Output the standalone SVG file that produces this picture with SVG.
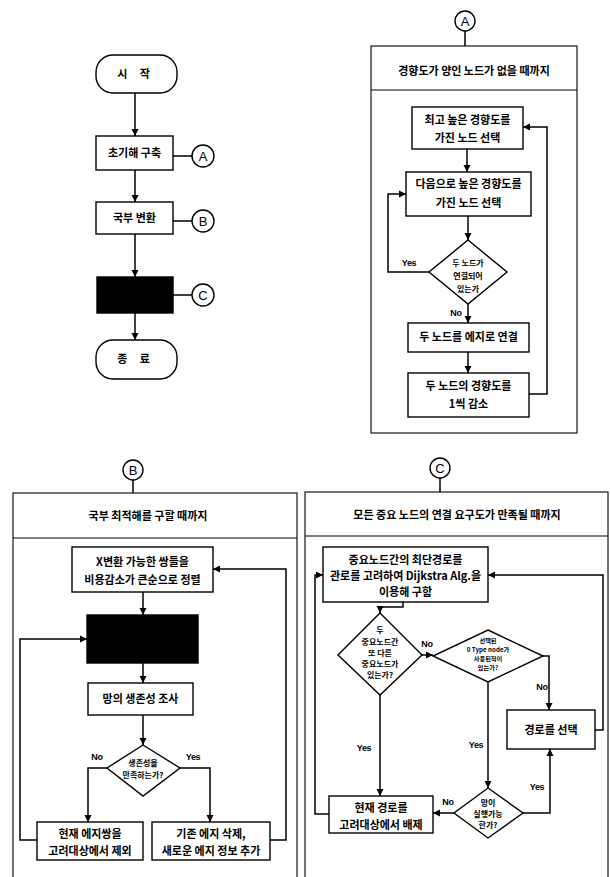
<svg xmlns="http://www.w3.org/2000/svg" width="610" height="877" viewBox="0 0 610 877">
<defs>
<style>
.bg{fill:#fff}
.box{fill:#fff;stroke:#000;stroke-width:1.4}
.blk{fill:#000;stroke:#000;stroke-width:1.4}
.pan{fill:none;stroke:#000;stroke-width:1.1}
.ln{fill:none;stroke:#000;stroke-width:1.5}
.ar{fill:none;stroke:#000;stroke-width:1.5;marker-end:url(#ah)}
.t{font-family:"Noto Sans CJK KR","Noto Sans",sans-serif;font-weight:bold;font-size:11px;text-anchor:middle;fill:#000}
.s{font-family:"Noto Sans CJK KR","Noto Sans",sans-serif;font-weight:bold;font-size:8px;text-anchor:middle;fill:#000}
.xs{font-family:"Noto Sans CJK KR","Noto Sans",sans-serif;font-weight:bold;font-size:6.2px;text-anchor:middle;fill:#000}
.yn{font-family:"Liberation Sans",Arial,sans-serif;font-weight:bold;font-size:9px;text-anchor:middle;fill:#000;letter-spacing:-0.3px}
.cl{font-family:"Liberation Sans",Arial,sans-serif;font-size:13px;text-anchor:middle;fill:#000}
</style>
<marker id="ah" markerUnits="userSpaceOnUse" markerWidth="8" markerHeight="8" refX="7" refY="4" orient="auto">
<path d="M0,0.5 L7,4 L0,7.5 z" fill="#000"/>
</marker>
</defs>
<rect class="bg" x="0" y="0" width="610" height="877"/>

<g id="connectors">
<path class="ar" d="M135,93 V136"/>
<path class="ln" d="M173,156 H192"/>
<path class="ar" d="M135,170 V202"/>
<path class="ln" d="M173,221 H192"/>
<path class="ar" d="M135,234 V277"/>
<path class="ln" d="M173,295 H192"/>
<path class="ar" d="M135,313 V340"/>

<path class="ln" d="M465,31 V46"/>
<path class="ar" d="M467,149 V172"/>
<path class="ar" d="M468,216 V240"/>
<path class="ar" d="M429,272 H388 V194 H406"/>
<path class="ar" d="M468,304 V323"/>
<path class="ar" d="M468,352 V373"/>
<path class="ar" d="M529,394 H547 V127 H523"/>

<path class="ln" d="M133,480 V493"/>
<path class="ar" d="M143,592 V615"/>
<path class="ar" d="M143,663 V683"/>
<path class="ar" d="M143,715 V745"/>
<path class="ar" d="M107,768 H88 V822"/>
<path class="ar" d="M180,768 H210 V822"/>
<path class="ar" d="M37,840 H20 V639 H87"/>
<path class="ar" d="M270,840 H286 V569 H213"/>

<path class="ln" d="M440,478 V492"/>
<path class="ar" d="M403,602 V607 H380 V613"/>
<path class="ar" d="M422,655 H433"/>
<path class="ar" d="M543,656 H549 V710"/>
<path class="ar" d="M595,730 H603 V575 H488"/>
<path class="ar" d="M488,682 V788"/>
<path class="ar" d="M523,813 H550 V749"/>
<path class="ar" d="M454,813 H433"/>
<path class="ar" d="M380,695 V796"/>
<path class="ar" d="M329,814 H315 V575 H323"/>
</g>

<g id="start"><rect class="box" x="96" y="55" width="81" height="38" rx="17"/><text class="t" x="136" y="78" letter-spacing="5">시 작</text></g>
<g id="init"><rect class="box" x="96" y="136" width="77" height="34"/><text class="t" x="134.5" y="157">초기해 구축</text></g>
<g id="local"><rect class="box" x="96" y="202" width="77" height="32"/><text class="t" x="134.5" y="222">국부 변환</text></g>
<g id="black"><rect class="blk" x="97" y="277" width="76" height="36"/></g>
<g id="end"><rect class="box" x="96" y="340" width="81" height="39" rx="17"/><text class="t" x="136" y="363" letter-spacing="5">종 료</text></g>
<g id="cA1"><circle class="box" cx="203" cy="156" r="11"/><text class="cl" x="203" y="161">A</text></g>
<g id="cB1"><circle class="box" cx="203" cy="221" r="11"/><text class="cl" x="203" y="226">B</text></g>
<g id="cC1"><circle class="box" cx="203" cy="295" r="11"/><text class="cl" x="203" y="300">C</text></g>

<g id="panelA">
<circle class="box" cx="465" cy="21" r="10"/><text class="cl" x="465" y="26">A</text>
<rect class="pan" x="371" y="46" width="206" height="387"/>
<line class="pan" x1="371" y1="90" x2="577" y2="90"/>
<text class="t" x="474" y="75">경향도가 양인 노드가 없을 때까지</text>
</g>
<g id="a1"><rect class="box" x="412" y="107" width="111" height="42"/><text class="t" x="467.5" y="124">최고 높은 경향도를</text><text class="t" x="467.5" y="142">가진 노드 선택</text></g>
<g id="a2"><rect class="box" x="406" y="172" width="125" height="44"/><text class="t" x="468.5" y="188">다음으로 높은 경향도를</text><text class="t" x="468.5" y="207">가진 노드 선택</text></g>
<g id="a3"><polygon class="box" points="468,240 507,272 468,304 429,272"/><text class="s" x="468" y="266">두 노드가</text><text class="s" x="468" y="279">연결되어</text><text class="s" x="468" y="292">있는가</text></g>
<g id="a4"><rect class="box" x="408" y="323" width="121" height="29"/><text class="t" x="468.5" y="341">두 노드를 에지로 연결</text></g>
<g id="a5"><rect class="box" x="408" y="373" width="121" height="44"/><text class="t" x="468.5" y="390">두 노드의 경향도를</text><text class="t" x="468.5" y="408">1씩 감소</text></g>
<g id="aLabels"><text class="yn" x="409" y="266">Yes</text><text class="yn" x="456" y="316">No</text></g>

<g id="panelB">
<circle class="box" cx="133" cy="470" r="10"/><text class="cl" x="133" y="475">B</text>
<rect class="pan" x="13" y="493" width="284" height="390"/>
<line class="pan" x1="13" y1="538" x2="297" y2="538"/>
<text class="t" x="148" y="520">국부 최적해를 구할 때까지</text>
</g>
<g id="b1"><rect class="box" x="72" y="547" width="141" height="45"/><text class="t" x="142.5" y="566">X변환 가능한 쌍들을</text><text class="t" x="142.5" y="584">비용감소가 큰순으로 정렬</text></g>
<g id="b2"><rect class="blk" x="87" y="615" width="111" height="48"/></g>
<g id="b3"><rect class="box" x="88" y="683" width="105" height="32"/><text class="t" x="140.5" y="703">망의 생존성 조사</text></g>
<g id="b4"><polygon class="box" points="143,745 180,768 143,796 107,768"/><text class="s" x="143" y="766">생존성을</text><text class="s" x="143" y="778">만족하는가?</text></g>
<g id="b5"><rect class="box" x="37" y="822" width="106" height="38"/><text class="t" x="90" y="838">현재 에지쌍을</text><text class="t" x="90" y="855">고려대상에서 제외</text></g>
<g id="b6"><rect class="box" x="152" y="822" width="118" height="38"/><text class="t" x="211" y="838">기존 에지 삭제,</text><text class="t" x="211" y="855">새로운 에지 정보 추가</text></g>
<g id="bLabels"><text class="yn" x="97" y="760">No</text><text class="yn" x="193" y="760">Yes</text></g>

<g id="panelC">
<circle class="box" cx="440" cy="468" r="10"/><text class="cl" x="440" y="473">C</text>
<rect class="pan" x="305" y="492" width="303" height="391"/>
<line class="pan" x1="305" y1="536" x2="608" y2="536"/>
<text class="t" x="457" y="519">모든 중요 노드의 연결 요구도가 만족될 때까지</text>
</g>
<g id="c1"><rect class="box" x="323" y="547" width="165" height="55"/><text class="t" x="405.5" y="564">중요노드간의 최단경로를</text><text class="t" x="405.5" y="580">관로를 고려하여 Dijkstra Alg.을</text><text class="t" x="405.5" y="596">이용해 구함</text></g>
<g id="c2"><polygon class="box" points="380,613 422,655 380,695 338,655"/><text class="s" x="380" y="633">두</text><text class="s" x="380" y="645">중요노드간</text><text class="s" x="380" y="656">또 다른</text><text class="s" x="380" y="667">중요노드가</text><text class="s" x="380" y="678">있는가?</text></g>
<g id="c3"><polygon class="box" points="488,630 543,656 488,682 433,656"/><text class="xs" x="488" y="643">선택된</text><text class="xs" x="488" y="652">0 Type node가</text><text class="xs" x="488" y="661">사용된적이</text><text class="xs" x="488" y="670">있는가?</text></g>
<g id="c4"><rect class="box" x="507" y="710" width="88" height="39"/><text class="t" x="551" y="734">경로를 선택</text></g>
<g id="c5"><polygon class="box" points="488,788 523,813 488,838 454,813"/><text class="s" x="488" y="806">망이</text><text class="s" x="488" y="817">실행가능</text><text class="s" x="488" y="828">한가?</text></g>
<g id="c6"><rect class="box" x="329" y="796" width="104" height="37"/><text class="t" x="381" y="812">현재 경로를</text><text class="t" x="381" y="829">고려대상에서 배제</text></g>
<g id="cLabels"><text class="yn" x="427" y="647">No</text><text class="yn" x="542" y="690">No</text><text class="yn" x="476" y="748">Yes</text><text class="yn" x="537" y="790">Yes</text><text class="yn" x="448" y="805">No</text><text class="yn" x="364" y="751">Yes</text></g>
</svg>
